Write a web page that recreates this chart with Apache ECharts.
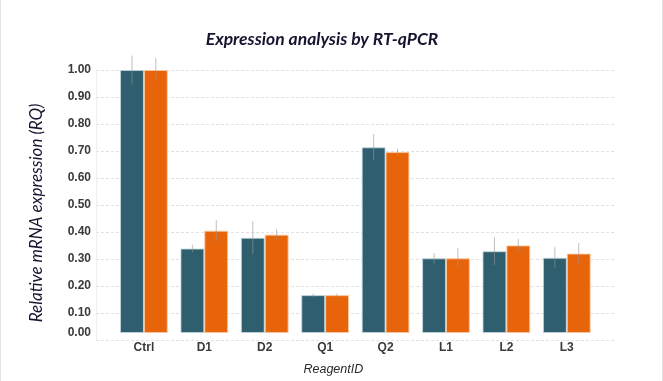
<!DOCTYPE html>
<html>
<head>
<meta charset="utf-8">
<script src="https://cdn.jsdelivr.net/npm/echarts@6/dist/echarts.min.js"></script>
<style>
html,body{margin:0;padding:0;background:#fff;}
#chart{width:663px;height:381px;box-sizing:border-box;border-left:1px solid #e4e4e4;border-right:1px solid #e4e4e4;}
</style>
</head>
<body>
<div id="chart"></div>
<script>
var categories = ['Ctrl','D1','D2','Q1','Q2','L1','L2','L3'];
var seriesA = [1.00, 0.321, 0.362, 0.144, 0.706, 0.284, 0.311, 0.286];
var seriesB = [1.00, 0.389, 0.374, 0.144, 0.688, 0.284, 0.333, 0.302];
var errA = [0.055, 0.015, 0.062, 0.006, 0.05, 0.02, 0.052, 0.04];
var errB = [0.045, 0.04, 0.02, 0.006, 0.012, 0.038, 0.025, 0.04];
var yTicks = [0, 0.1, 0.2, 0.3, 0.4, 0.5, 0.6, 0.7, 0.8, 0.9, 1.0];

var chart = echarts.init(document.getElementById('chart'));
var teal = '#2f5e6e', orange = '#e8640a';
var catGap = 0.21;

var errData = [];
categories.forEach(function(c, i){
  errData.push([i, seriesA[i], errA[i], 0]);
  errData.push([i, seriesB[i], errB[i], 1]);
});

chart.setOption({
  backgroundColor: '#fff',
  animation: false,
  title: {
    text: 'Expression analysis by RT-qPCR',
    left: 316, top: 25, textAlign: 'center',
    textStyle: {fontFamily: 'Lato', fontStyle: 'italic', fontWeight: 'bold', fontSize: 17.5, color: '#151530'}
  },
  grid: [
    {left: 95, right: 47, top: 70, bottom: 41},
    {left: 112.7, right: 65, top: 70, bottom: 41}
  ],
  xAxis: [
    {gridIndex: 0, type: 'value', show: false, min: 0, max: 1},
    {gridIndex: 1, type: 'category', data: categories,
     axisLine: {show: false}, axisTick: {show: false},
     axisLabel: {margin: 9, fontFamily: 'Liberation Sans', fontWeight: 'bold', fontSize: 12, color: '#3a3a3a'},
     name: 'ReagentID', nameLocation: 'middle', nameGap: 30,
     nameTextStyle: {fontFamily: 'Liberation Sans', fontStyle: 'italic', fontSize: 12.5, color: '#2a2a2a', padding: [0, 44, 0, 0]}
    }
  ],
  yAxis: [
    {gridIndex: 0, type: 'value', min: 0, max: 1, interval: 0.1,
     axisLine: {show: true, lineStyle: {color: '#eeeeee'}},
     axisTick: {show: false},
     splitLine: {show: true, lineStyle: {color: '#e2e2e2', type: [3, 2]}},
     axisLabel: {margin: 5, fontFamily: 'Liberation Sans', fontWeight: 'bold', fontSize: 12, color: '#3a3a3a',
       formatter: function(v){ return v === 0 ? '{z|0.00}' : v.toFixed(2); },
       rich: {z: {fontFamily: 'Liberation Sans', fontWeight: 'bold', fontSize: 12, color: '#3a3a3a', padding: [0, 0, 14, 0]}}
     },
     name: 'Relative mRNA expression (RQ)', nameLocation: 'middle', nameGap: 51, nameRotate: 90,
     nameTextStyle: {fontFamily: 'Lato', fontStyle: 'italic', fontSize: 17, color: '#151530', padding: [0, 16, 0, 0]}
    },
    {gridIndex: 1, type: 'value', min: 0, max: 1, show: false}
  ],
  series: [
    {type: 'bar', xAxisIndex: 1, yAxisIndex: 1, data: seriesA, barGap: '0%', barCategoryGap: (catGap*100)+'%',
     itemStyle: {color: teal, borderColor: 'rgba(190,215,225,0.8)', borderWidth: 1}},
    {type: 'bar', xAxisIndex: 1, yAxisIndex: 1, data: seriesB, barGap: '0%', barCategoryGap: (catGap*100)+'%',
     itemStyle: {color: orange, borderColor: 'rgba(250,200,160,0.9)', borderWidth: 1}},
    {type: 'custom', xAxisIndex: 1, yAxisIndex: 1, data: errData, clip: false, z: 10,
     renderItem: function(params, api){
       var i = api.value(0), v = api.value(1), e = api.value(2), s = api.value(3);
       var band = api.size([1, 0])[0];
       var bw = band * (1 - catGap) / 2;
       var c = api.coord([i, v]);
       var x = c[0] + (s === 0 ? -bw/2 : bw/2);
       var top = api.coord([i, v + e])[1];
       var bot = api.coord([i, v - e])[1];
       return {type: 'line', shape: {x1: x, y1: top, x2: x, y2: bot},
               style: {stroke: 'rgba(150,150,150,0.6)', lineWidth: 1}};
     }
    }
  ]
});
</script>
</body>
</html>
